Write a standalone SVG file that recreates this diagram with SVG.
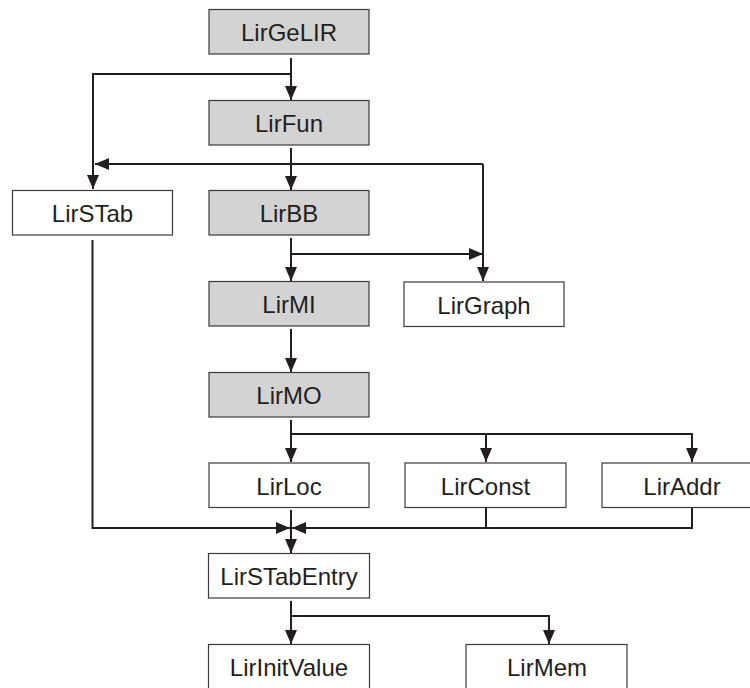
<svg xmlns="http://www.w3.org/2000/svg" width="750" height="688" viewBox="0 0 750 688">
  <style>
    .box { stroke: #3a3a3a; stroke-width: 1.2; }
    .gray { fill: #d3d3d4; }
    .white { fill: #ffffff; }
    .lbl { font-family: "Liberation Sans", Arial, sans-serif; font-size: 24px; fill: #231f20; text-anchor: middle; }
    .wire { fill: none; stroke: #231f20; stroke-width: 2; }
  </style>
  <defs>
    <marker id="arrow" viewBox="0 0 14 12" refX="14" refY="6" markerWidth="14" markerHeight="12" markerUnits="userSpaceOnUse" orient="auto">
      <path d="M0,0 L14,6 L0,12 z" fill="#231f20"/>
    </marker>
  </defs>
  <rect width="750" height="688" fill="#ffffff"/>

  <g id="LirGeLIR"><rect class="box gray" x="209" y="9.5" width="160" height="44.5"/><text class="lbl" x="289" y="41">LirGeLIR</text></g>
  <g id="LirFun"><rect class="box gray" x="209" y="100.5" width="160" height="44.5"/><text class="lbl" x="289" y="132">LirFun</text></g>
  <g id="LirSTab"><rect class="box white" x="12.5" y="190.5" width="160" height="44.5"/><text class="lbl" x="92.5" y="222">LirSTab</text></g>
  <g id="LirBB"><rect class="box gray" x="209" y="190.5" width="160" height="44.5"/><text class="lbl" x="289" y="222">LirBB</text></g>
  <g id="LirMI"><rect class="box gray" x="209" y="281.5" width="160" height="44.5"/><text class="lbl" x="289" y="313">LirMI</text></g>
  <g id="LirGraph"><rect class="box white" x="404" y="282" width="160" height="44.5"/><text class="lbl" x="484" y="313.5">LirGraph</text></g>
  <g id="LirMO"><rect class="box gray" x="209" y="372.5" width="160" height="44.5"/><text class="lbl" x="289" y="404">LirMO</text></g>
  <g id="LirLoc"><rect class="box white" x="209" y="463" width="160" height="44.5"/><text class="lbl" x="289" y="494.5">LirLoc</text></g>
  <g id="LirConst"><rect class="box white" x="405" y="463" width="161" height="44.5"/><text class="lbl" x="485.5" y="494.5">LirConst</text></g>
  <g id="LirAddr"><rect class="box white" x="602" y="463" width="161" height="44.5"/><text class="lbl" x="682" y="494.5">LirAddr</text></g>
  <g id="LirSTabEntry"><rect class="box white" x="208.5" y="553.5" width="161" height="44.5"/><text class="lbl" x="289" y="585">LirSTabEntry</text></g>
  <g id="LirInitValue"><rect class="box white" x="208.5" y="644.5" width="161" height="45"/><text class="lbl" x="289" y="676">LirInitValue</text></g>
  <g id="LirMem"><rect class="box white" x="466" y="644.5" width="161" height="45"/><text class="lbl" x="547" y="676">LirMem</text></g>

  <g id="connectors">
    <!-- LirGeLIR fan-out -->
    <path class="wire" d="M291,58 V100" marker-end="url(#arrow)"/>
    <path class="wire" d="M291,74 H93 V189" marker-end="url(#arrow)"/>
    <!-- LirFun down to LirBB -->
    <path class="wire" d="M291,148 V190" marker-end="url(#arrow)"/>
    <!-- LirGraph link back to LirSTab -->
    <path class="wire" d="M483,164 H95" marker-end="url(#arrow)"/>
    <path class="wire" d="M483,164 V281" marker-end="url(#arrow)"/>
    <!-- LirBB fan-out -->
    <path class="wire" d="M291,238 V281" marker-end="url(#arrow)"/>
    <path class="wire" d="M291,254 H483" marker-end="url(#arrow)"/>
    <!-- LirMI to LirMO -->
    <path class="wire" d="M291,329 V372" marker-end="url(#arrow)"/>
    <!-- LirMO fan-out -->
    <path class="wire" d="M291,420 V462" marker-end="url(#arrow)"/>
    <path class="wire" d="M291,434 H692 V462" marker-end="url(#arrow)"/>
    <path class="wire" d="M486,434 V462" marker-end="url(#arrow)"/>
    <!-- merge into LirSTabEntry -->
    <path class="wire" d="M92.5,240 V528 H290" marker-end="url(#arrow)"/>
    <path class="wire" d="M692,508 V528 H292" marker-end="url(#arrow)"/>
    <path class="wire" d="M486,508 V528"/>
    <path class="wire" d="M291,510 V553" marker-end="url(#arrow)"/>
    <!-- LirSTabEntry fan-out -->
    <path class="wire" d="M291,601 V644" marker-end="url(#arrow)"/>
    <path class="wire" d="M291,616 H549 V644" marker-end="url(#arrow)"/>
  </g>
</svg>
